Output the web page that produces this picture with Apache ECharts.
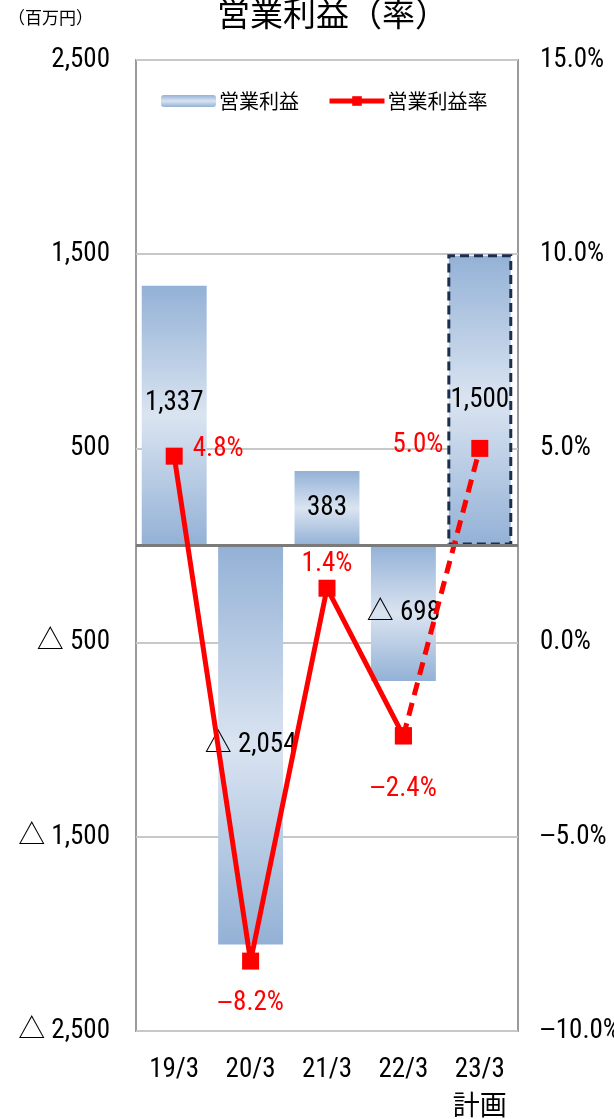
<!DOCTYPE html>
<html><head><meta charset="utf-8">
<script src="https://cdn.jsdelivr.net/npm/echarts@6/dist/echarts.min.js"></script>
<style>html,body{margin:0;padding:0;background:#fff}#c{width:614px;height:1119px}</style>
</head><body><div id="c"></div>
<script>
const categories = ['19/3', '20/3', '21/3', '22/3', '23/3\n計画'];
const profit = [1337, -2054, 383, -698, 1500];
const rate = [4.8, -8.2, 1.4, -2.4, 5.0];
const planIndex = 4;

const FONT = '"Noto Sans CJK JP", sans-serif';
const NUMFONT = '"Roboto Condensed", "Noto Sans CJK JP", sans-serif';
const NUMSIZE = 27;
const fmtNum = v => Math.abs(v).toLocaleString('en-US');
const fmtProfit = v => (v < 0 ? '△ ' : '') + fmtNum(v);
const fmtRate = v => (v < 0 ? '{m|−}' : '') + Math.abs(v).toFixed(1) + '%';
const minusRich = color => ({ m: { fontFamily: '"Liberation Sans", sans-serif', fontSize: NUMSIZE, color: color } });

const grad = {
  type: 'linear', x: 0, y: 0, x2: 0, y2: 1,
  colorStops: [
    { offset: 0, color: '#93b1d6' },
    { offset: 0.5, color: '#dae4f1' },
    { offset: 1, color: '#93b1d6' }
  ]
};

const barLabelOffsets = [[0, -12], [0, 0], [0, 0], [0, 0], [0, 0]];
const barData = profit.map((v, i) => {
  const d = { value: v, label: { offset: barLabelOffsets[i] } };
  if (i === planIndex) {
    d.itemStyle = { borderColor: '#1b2f4d', borderWidth: 3, borderType: [9, 5] };
  }
  return d;
});

const rateLabelCfg = [
  { position: 'right', distance: 10, offset: [0, -7] },
  { position: 'bottom', distance: 20 },
  { position: 'top', distance: 2 },
  { position: 'bottom', distance: 31 },
  { position: 'left', distance: 28, offset: [0, -3] }
];
const solidData = rate.map((v, i) => i < planIndex ? { value: v, label: rateLabelCfg[i] } : '-');
const dashedData = rate.map((v, i) => {
  if (i === planIndex) return { value: v, label: rateLabelCfg[i] };
  if (i === planIndex - 1) return { value: v, label: { show: false } };
  return '-';
});

const chart = echarts.init(document.getElementById('c'));
chart.setOption({
  animation: false,
  textStyle: { fontFamily: FONT },
  title: {
    text: '営業利益（率）', left: 212, top: -8,
    textStyle: { fontFamily: FONT, fontSize: 33, fontWeight: 'normal', color: '#000' }
  },
  graphic: [{
    type: 'text', left: 8, top: 9,
    style: { text: '（百万円）', font: '17px ' + FONT, fill: '#000' }
  }],
  legend: {
    left: 156, top: 86, itemWidth: 55, itemHeight: 12, itemGap: 28,
    textStyle: { fontFamily: FONT, fontSize: 20, color: '#000', padding: [0, 0, 0, -2] },
    data: ['営業利益', { name: '営業利益率', lineStyle: { width: 5 } }]
  },
  grid: {
    left: 136, right: 96, top: 60, bottom: 88, show: true, outerBoundsMode: 'none',
    borderColor: '#9a9a9a', borderWidth: 2, backgroundColor: 'transparent'
  },
  xAxis: {
    type: 'category', data: categories, boundaryGap: true,
    axisLine: { show: false, onZero: false }, axisTick: { show: false },
    axisLabel: { margin: 20, fontSize: NUMSIZE, color: '#000', fontFamily: NUMFONT, lineHeight: 38, interval: 0 }
  },
  yAxis: [{
    type: 'value', min: -2500, max: 2500, interval: 500,
    axisLine: { show: false }, axisTick: { show: false }, splitLine: { show: false },
    axisLabel: {
      margin: 26, fontSize: NUMSIZE, color: '#000', fontFamily: NUMFONT,
      formatter: v => (Math.abs(v) % 1000 === 500 ? fmtProfit(v) : '')
    }
  }, {
    type: 'value', min: -10, max: 15, interval: 5,
    axisLine: { show: false }, axisTick: { show: false },
    splitLine: { show: true, lineStyle: { color: '#c8c8c8', width: 2 } },
    axisLabel: {
      margin: 22, fontSize: NUMSIZE, color: '#000', fontFamily: NUMFONT,
      formatter: v => fmtRate(v), rich: minusRich('#000')
    }
  }],
  series: [{
    name: '営業利益', type: 'bar', yAxisIndex: 0, barWidth: '85%',
    itemStyle: { color: grad },
    label: {
      show: true, position: 'inside', color: '#000', fontSize: NUMSIZE, fontFamily: NUMFONT,
      formatter: p => fmtProfit(p.value)
    },
    data: barData,
    markLine: {
      silent: true, symbol: 'none', label: { show: false },
      lineStyle: { color: '#7a7a7a', width: 3, type: 'solid' },
      data: [{ yAxis: 0 }]
    }
  }, {
    name: '営業利益率', type: 'line', yAxisIndex: 1, z: 5,
    symbol: 'rect', symbolSize: 17, connectNulls: false,
    lineStyle: { color: '#ff0000', width: 5 },
    itemStyle: { color: '#ff0000' },
    label: {
      show: true, color: '#ff0000', fontSize: NUMSIZE, fontFamily: NUMFONT,
      formatter: p => fmtRate(p.value), rich: minusRich('#ff0000')
    },
    data: solidData
  }, {
    name: '営業利益率', type: 'line', yAxisIndex: 1, z: 4,
    symbol: 'rect', symbolSize: 17, connectNulls: false,
    lineStyle: { color: '#ff0000', width: 5, type: [13, 8] },
    itemStyle: { color: '#ff0000' },
    label: {
      show: true, color: '#ff0000', fontSize: NUMSIZE, fontFamily: NUMFONT,
      formatter: p => fmtRate(p.value), rich: minusRich('#ff0000')
    },
    data: dashedData
  }]
});
</script></body></html>
